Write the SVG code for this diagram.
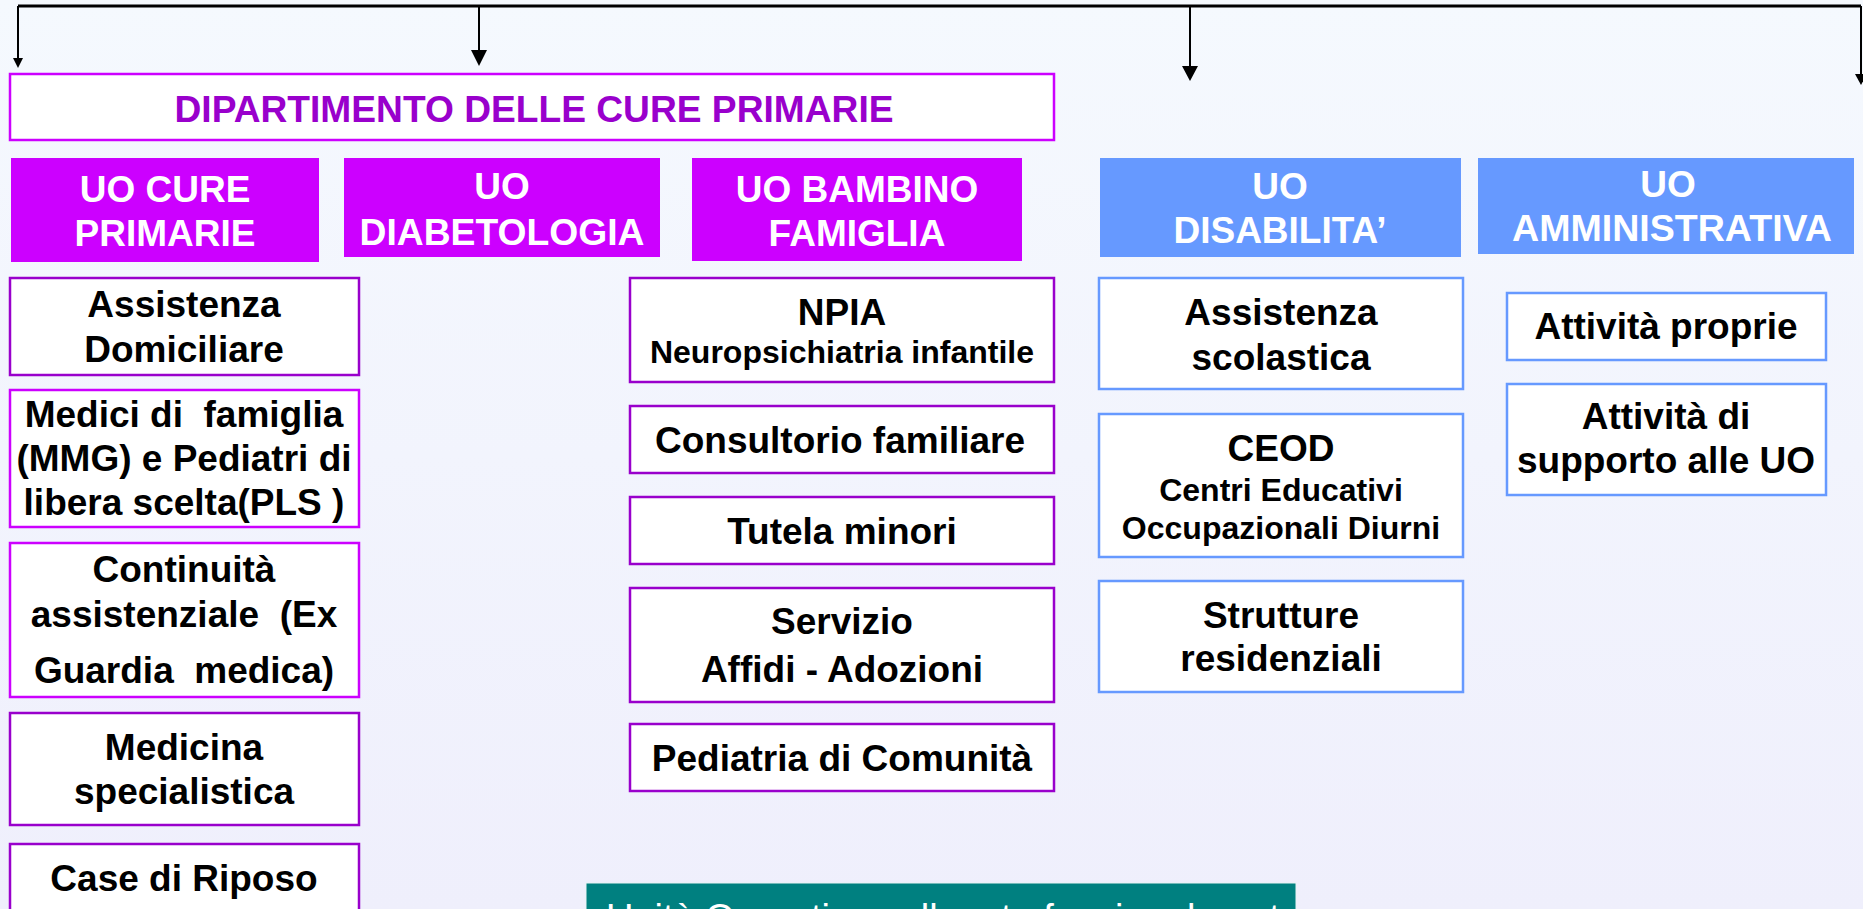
<svg xmlns="http://www.w3.org/2000/svg" width="1863" height="909" viewBox="0 0 1863 909">
<defs>
<linearGradient id="bg" x1="0" y1="0" x2="0" y2="1">
<stop offset="0" stop-color="#F5F9FE"/>
<stop offset="1" stop-color="#EFEFFC"/>
</linearGradient>
<style>
.hdr{fill:#CC00FF}
.hdrb{fill:#6699FF}
.bx{fill:#FFFFFF;stroke:#9900CC;stroke-width:2.5}
.bx2{fill:#FFFFFF;stroke:#CC00FF;stroke-width:2.5}
.bxb{fill:#FFFFFF;stroke:#6699FF;stroke-width:2.5}
.t{font-family:"Liberation Sans",Arial,sans-serif;font-weight:bold;font-size:37px;text-anchor:middle;fill:#000000}
.w{fill:#FFFFFF}
.s{font-size:32px}
.ln{stroke:#000000;stroke-width:2;fill:none}
.ah{fill:#000000}
</style>
</defs>
<rect x="0" y="0" width="1863" height="909" fill="url(#bg)"/>

<g id="connectors">
<path class="ln" d="M18,6 H1861" style="stroke-width:3"/>
<path class="ln" d="M18,6 V60"/>
<polygon class="ah" points="13,58 23,58 18,68"/>
<path class="ln" d="M479,6 V52"/>
<polygon class="ah" points="471,50 487,50 479,66"/>
<path class="ln" d="M1190,6 V68"/>
<polygon class="ah" points="1182,66 1198,66 1190,81"/>
<path class="ln" d="M1861,6 V76"/>
<polygon class="ah" points="1855,74 1867,74 1861,85"/>
</g>

<g id="dipartimento">
<rect x="10" y="74" width="1044" height="66" style="fill:#FFFFFF;stroke:#CC00FF;stroke-width:2.5"/>
<text class="t" x="534" y="122" style="fill:#9900CC" textLength="719" lengthAdjust="spacingAndGlyphs">DIPARTIMENTO DELLE CURE PRIMARIE</text>
</g>

<g id="uo-cure-primarie">
<rect class="hdr" x="11" y="158" width="308" height="104"/>
<text class="t w" x="165" y="202">UO CURE</text>
<text class="t w" x="165" y="246">PRIMARIE</text>
</g>
<g id="uo-diabetologia">
<rect class="hdr" x="344" y="158" width="316" height="99"/>
<text class="t w" x="502" y="199">UO</text>
<text class="t w" x="502" y="245" textLength="285" lengthAdjust="spacingAndGlyphs">DIABETOLOGIA</text>
</g>
<g id="uo-bambino-famiglia">
<rect class="hdr" x="692" y="158" width="330" height="103"/>
<text class="t w" x="857" y="202">UO BAMBINO</text>
<text class="t w" x="857" y="246">FAMIGLIA</text>
</g>
<g id="uo-disabilita">
<rect class="hdrb" x="1100" y="158" width="361" height="99"/>
<text class="t w" x="1280" y="199">UO</text>
<text class="t w" x="1280" y="243">DISABILITA’</text>
</g>
<g id="uo-amministrativa">
<rect class="hdrb" x="1478" y="158" width="376" height="96"/>
<text class="t w" x="1668" y="197">UO</text>
<text class="t w" x="1672" y="241" textLength="320" lengthAdjust="spacingAndGlyphs">AMMINISTRATIVA</text>
</g>

<g id="assistenza-domiciliare">
<rect class="bx" x="10" y="278" width="349" height="97"/>
<text class="t" x="184" y="317">Assistenza</text>
<text class="t" x="184" y="362">Domiciliare</text>
</g>
<g id="medici-famiglia">
<rect class="bx2" x="10" y="390" width="349" height="137"/>
<text class="t" x="184" y="427" xml:space="preserve">Medici di  famiglia</text>
<text class="t" x="184" y="471">(MMG) e Pediatri di</text>
<text class="t" x="184" y="515">libera scelta(PLS )</text>
</g>
<g id="continuita-assistenziale">
<rect class="bx2" x="10" y="543" width="349" height="154"/>
<text class="t" x="184" y="582">Continuità</text>
<text class="t" x="184" y="627" xml:space="preserve">assistenziale  (Ex</text>
<text class="t" x="184" y="683" xml:space="preserve">Guardia  medica)</text>
</g>
<g id="medicina-specialistica">
<rect class="bx" x="10" y="713" width="349" height="112"/>
<text class="t" x="184" y="760">Medicina</text>
<text class="t" x="184" y="804">specialistica</text>
</g>
<g id="case-di-riposo">
<rect class="bx" x="10" y="844" width="349" height="100"/>
<text class="t" x="184" y="891">Case di Riposo</text>
</g>

<g id="npia">
<rect class="bx" x="630" y="278" width="424" height="104"/>
<text class="t" x="842" y="325">NPIA</text>
<text class="t s" x="842" y="363">Neuropsichiatria infantile</text>
</g>
<g id="consultorio-familiare">
<rect class="bx" x="630" y="406" width="424" height="67"/>
<text class="t" x="840" y="453">Consultorio familiare</text>
</g>
<g id="tutela-minori">
<rect class="bx" x="630" y="497" width="424" height="67"/>
<text class="t" x="842" y="544">Tutela minori</text>
</g>
<g id="servizio-affidi">
<rect class="bx" x="630" y="588" width="424" height="114"/>
<text class="t" x="842" y="634">Servizio</text>
<text class="t" x="842" y="682">Affidi - Adozioni</text>
</g>
<g id="pediatria-comunita">
<rect class="bx" x="630" y="724" width="424" height="67"/>
<text class="t" x="842" y="771">Pediatria di Comunità</text>
</g>

<g id="assistenza-scolastica">
<rect class="bxb" x="1099" y="278" width="364" height="111"/>
<text class="t" x="1281" y="325">Assistenza</text>
<text class="t" x="1281" y="370">scolastica</text>
</g>
<g id="ceod">
<rect class="bxb" x="1099" y="414" width="364" height="143"/>
<text class="t" x="1281" y="461">CEOD</text>
<text class="t s" x="1281" y="501">Centri Educativi</text>
<text class="t s" x="1281" y="539">Occupazionali Diurni</text>
</g>
<g id="strutture-residenziali">
<rect class="bxb" x="1099" y="581" width="364" height="111"/>
<text class="t" x="1281" y="628">Strutture</text>
<text class="t" x="1281" y="671">residenziali</text>
</g>

<g id="attivita-proprie">
<rect class="bxb" x="1507" y="293" width="319" height="67"/>
<text class="t" x="1666" y="339">Attività proprie</text>
</g>
<g id="attivita-supporto">
<rect class="bxb" x="1507" y="384" width="319" height="111"/>
<text class="t" x="1666" y="429">Attività di</text>
<text class="t" x="1666" y="473" textLength="298" lengthAdjust="spacingAndGlyphs">supporto alle UO</text>
</g>

<g id="unita-operative">
<rect x="586" y="883" width="710" height="60" style="fill:#008080;stroke:#E8F4F4;stroke-width:1"/>
<text x="606" y="931" style="font-family:'Liberation Sans',Arial,sans-serif;font-size:38px;fill:#FFFFFF">Unità Operative collegate funzionalmente</text>
</g>
</svg>
